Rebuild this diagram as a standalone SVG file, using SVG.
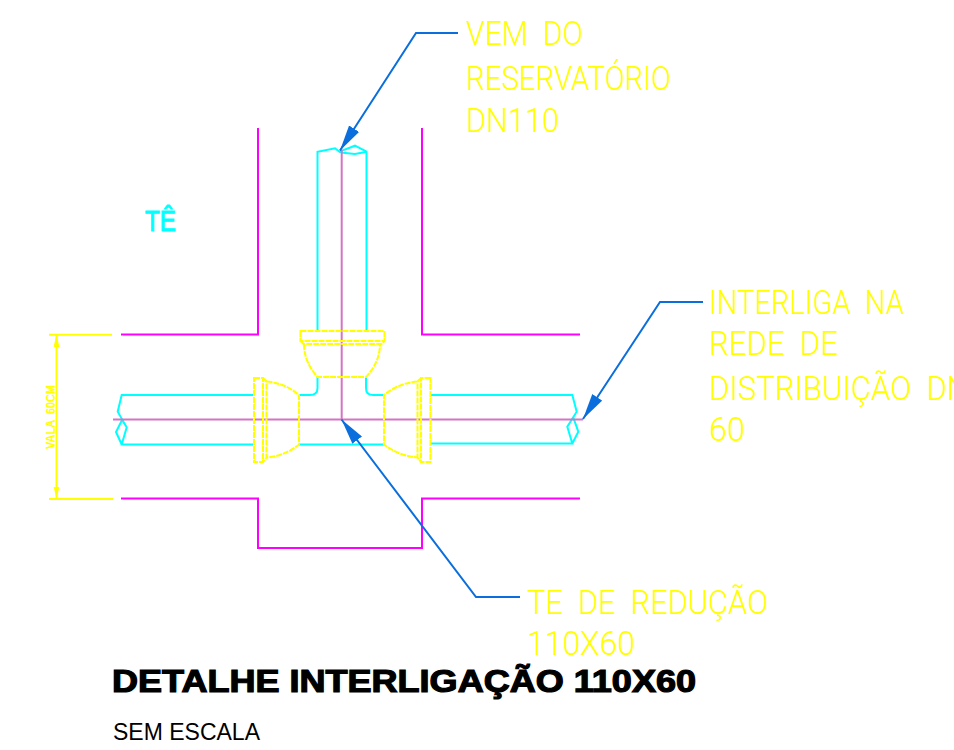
<svg xmlns="http://www.w3.org/2000/svg" width="954" height="750" viewBox="0 0 954 750">
<style>
.m{fill:none;stroke:#ff00ff;stroke-width:2}
.c{fill:none;stroke:#00ffff;stroke-width:2}
.p{fill:none;stroke:#d574c4;stroke-width:2}
.y{fill:none;stroke:#ffff00;stroke-width:2}
.d{fill:none;stroke:#ffff00;stroke-width:2;stroke-dasharray:6 1}
.b{fill:none;stroke:#0a6fdc;stroke-width:2}
.t{font-family:"Roboto","Liberation Sans",sans-serif;font-weight:300;font-size:33px;fill:#ffff00}
</style>
<defs>
<marker id="ah" markerUnits="userSpaceOnUse" markerWidth="30" markerHeight="16" refX="26" refY="6" orient="auto"><path d="M0 0L26 6L0 12Z" fill="#0a6fdc"/></marker>
<marker id="da" markerUnits="userSpaceOnUse" markerWidth="14" markerHeight="8" refX="12" refY="3" orient="auto"><path d="M0 0L12 3L0 6Z" fill="#ffff00"/></marker>
</defs>
<rect width="954" height="750" fill="#fff"/>
<g id="trench">
<path class="m" d="M258 128V334.500H121M422 128V334.500H580M121 498.500H258V548H422V498.500H580"/>
</g>
<g id="pipes">
<path class="c" d="M317.500 331V151.700L335 148.300L339.300 151.700L355 145.700L366.500 151.700V331M339.300 151.700L343 152.700L355 154L366.500 151.700"/>
<path class="c" d="M317.500 377V388Q317.500 395 310 395H299M366 377V388Q366 395 373 395H384M299 444.500H384"/>
<path class="c" d="M253 395H121.700L117.700 411.700L126.700 427.300L121.700 444.500H253M126.700 427.300L122 420L116 432L121.700 444.500"/>
<path class="c" d="M430 395H572.300L576.700 411.700L567.300 426.700L572.300 443.500H430M572.300 443.500L578.300 431.700L573 416.700"/>
</g>
<g id="axes">
<path class="p" d="M113 419.500H583M341.700 150V419.500"/>
</g>
<g id="fitting">
<path class="d" d="M300.500 331H384.500V341H300.500ZM300.500 341L303.500 344H381.500L384.500 341M304 344Q304 362 317.500 377H366Q380 362 380 344"/>
<path class="d" d="M254 378H263V462H254ZM263 378L266.500 381.500V457.500L263 462M266.500 381.500Q285 383 299 395V444.500Q285 456 266.500 457.500"/>
<path class="d" d="M430.500 378H421V462H430.500ZM421 378L417.500 381.500V457.500L421 462M417.500 381.500Q399 383 384 395V444.500Q399 456 417.500 457.500"/>
</g>
<g id="dimension">
<path class="y" d="M49 334.700H112M49 499H113"/>
<path class="y" d="M56.500 417V335" marker-end="url(#da)"/>
<path class="y" d="M56.500 417V498.500" marker-end="url(#da)"/>
<text transform="translate(55 449) rotate(-90)" font-family="Liberation Sans" font-weight="700" font-size="13" fill="#ffff00" textLength="64" lengthAdjust="spacingAndGlyphs" xml:space="preserve">VALA  60CM</text>
</g>
<g id="connectors">
<path class="b" d="M458 33H416L340 150.500" marker-end="url(#ah)"/>
<path class="b" d="M703 302H660L583 419" marker-end="url(#ah)"/>
<path class="b" d="M520 597H476L341.500 419.500" marker-end="url(#ah)"/>
</g>
<g id="labels">
<text class="t" x="466" y="45" textLength="117" lengthAdjust="spacingAndGlyphs" xml:space="preserve">VEM  DO</text>
<text class="t" x="466" y="90" textLength="205" lengthAdjust="spacingAndGlyphs">RESERVATÓRIO</text>
<text class="t" x="466" y="132" textLength="93" lengthAdjust="spacingAndGlyphs">DN110</text>
<text class="t" x="709" y="314" textLength="195" lengthAdjust="spacingAndGlyphs" xml:space="preserve">INTERLIGA  NA</text>
<text class="t" x="709" y="355" textLength="129" lengthAdjust="spacingAndGlyphs" xml:space="preserve">REDE  DE</text>
<text class="t" x="709" y="400" textLength="260" lengthAdjust="spacingAndGlyphs" xml:space="preserve">DISTRIBUIÇÃO  DN</text>
<text class="t" x="709" y="441" textLength="36" lengthAdjust="spacingAndGlyphs">60</text>
<text class="t" x="527" y="614" textLength="241" lengthAdjust="spacingAndGlyphs" xml:space="preserve">TE  DE  REDUÇÃO</text>
<text class="t" x="527" y="655" textLength="108" lengthAdjust="spacingAndGlyphs">110X60</text>
<text x="145" y="231" font-family="Liberation Sans,sans-serif" font-size="29" fill="#00ffff" stroke="#00ffff" stroke-width="1" textLength="31" lengthAdjust="spacingAndGlyphs">TÊ</text>
<text x="112" y="692" font-family="Liberation Sans,sans-serif" font-size="31" font-weight="700" fill="#000" stroke="#000" stroke-width="1.200" textLength="584" lengthAdjust="spacingAndGlyphs">DETALHE INTERLIGAÇÃO 110X60</text>
<text x="113" y="740" font-family="Liberation Sans,sans-serif" font-size="23.500" fill="#000" textLength="147" lengthAdjust="spacingAndGlyphs">SEM ESCALA</text>
</g>
</svg>
